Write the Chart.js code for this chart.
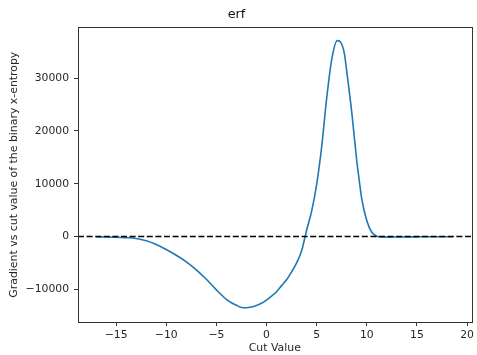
<!DOCTYPE html>
<html>
<head>
<meta charset="utf-8">
<script src="https://cdn.jsdelivr.net/npm/chart.js@4/dist/chart.umd.min.js"></script>
<style>
	html, body { margin: 0; padding: 0; background: #fff; }
	canvas { display: block; }
</style>
</head>
<body>
<canvas id="chart" width="477" height="355"></canvas>
<script>
// values
const cutValues = [
	-17, -16, -15, -14, -13, -12, -11, -10, -9, -8,
	-7, -6, -5, -4, -3.5, -3, -2.5, -2, -1.5, -1,
	-0.5, 0, 0.5, 1, 1.5, 2, 2.5, 3, 3.5, 3.85,
	4, 4.5, 5, 5.5, 6, 6.5, 7.05, 7.35, 7.75, 8,
	8.5, 9, 9.2, 9.5, 10, 10.5, 11, 11.5, 12, 12.5,
	13, 14, 15, 16, 17, 18, 18.6
];
const gradient = [
	-50, -80, -130, -220, -380, -800, -1500, -2450, -3550, -4800,
	-6300, -8100, -10100, -11900, -12550, -13000, -13450, -13500, -13350, -13050,
	-12650, -12050, -11300, -10450, -9300, -8200, -6700, -5000, -2700, 0,
	1200, 4800, 9900, 17000, 26200, 33500, 37100, 36900, 34800, 31300,
	23500, 14300, 11300, 7100, 3000, 800, 50, -100, -120, -100,
	-80, -60, -60, -50, -50, -50, -50
];
const xTicks = [-15, -10, -5, 0, 5, 10, 15, 20];
const yTicks = [-10000, 0, 10000, 20000, 30000];
const xLimits = [-18.8, 20.45];
const yLimits = [-16190, 39620];

const font = 'DejaVu Sans';
const textColor = '#262626';

const minusSign = v => String(v).replace('-', '\u2212');

// matplotlib style box around the axes
const frame = {
	id: 'frame',
	afterDatasetsDraw(chart) {
		const { ctx, chartArea: a } = chart;
		ctx.save();
		ctx.strokeStyle = '#333';
		ctx.lineWidth = 1;
		ctx.strokeRect(Math.round(a.left) + 0.5, Math.round(a.top) + 0.5,
			Math.round(a.right - a.left), Math.round(a.bottom - a.top));
		ctx.restore();
	}
};

new Chart(document.getElementById('chart'), {
	type: 'scatter',
	data: {
		datasets: [
			{
				// axhline at zero
				data: xLimits.map(x => ({ x: x, y: 0 })),
				showLine: true,
				borderColor: '#000',
				borderWidth: 1.5,
				borderDash: [6, 2.6],
				pointRadius: 0,
				order: 0
			},
			{
				data: cutValues.map((x, i) => ({ x: x, y: gradient[i] })),
				showLine: true,
				borderColor: '#1f77b4',
				borderWidth: 1.6,
				cubicInterpolationMode: 'monotone',
				pointRadius: 0,
				order: 1
			}
		]
	},
	options: {
		responsive: false,
		animation: false,
		devicePixelRatio: 1,
		layout: { padding: { left: 0, right: 4, top: 0, bottom: 0 } },
		plugins: {
			legend: { display: false },
			tooltip: { enabled: false },
			title: {
				display: true,
				text: 'erf',
				color: '#111',
				font: { family: font, size: 12.8, weight: 'normal' },
				padding: { top: 7, bottom: 5 }
			}
		},
		scales: {
			x: {
				type: 'linear',
				min: xLimits[0],
				max: xLimits[1],
				afterBuildTicks: s => { s.ticks = xTicks.map(v => ({ value: v })); },
				afterFit: s => { s.height = 33; },
				grid: { drawOnChartArea: false, drawTicks: true, tickLength: 4, color: '#333' },
				border: { display: true, color: '#333', width: 1 },
				ticks: {
					color: textColor,
					font: { family: font, size: 10.8 },
					padding: 3,
					maxRotation: 0,
					callback: v => minusSign(v)
				},
				title: {
					display: true,
					text: 'Cut Value',
					color: textColor,
					font: { family: font, size: 10.9 },
					padding: { top: 0, bottom: 0 }
				}
			},
			y: {
				type: 'linear',
				min: yLimits[0],
				max: yLimits[1],
				afterBuildTicks: s => { s.ticks = yTicks.map(v => ({ value: v })); },
				afterFit: s => { s.width = 78; },
				grid: { drawOnChartArea: false, drawTicks: true, tickLength: 4, color: '#333' },
				border: { display: true, color: '#333', width: 1 },
				ticks: {
					color: textColor,
					font: { family: font, size: 10.8 },
					padding: 5,
					callback: v => minusSign(v)
				},
				title: {
					display: true,
					text: 'Gradient vs cut value of the binary x-entropy',
					color: textColor,
					font: { family: font, size: 10.9 },
					padding: { top: 7.5, bottom: 0 }
				}
			}
		}
	},
	plugins: [frame]
});
</script>
</body>
</html>
